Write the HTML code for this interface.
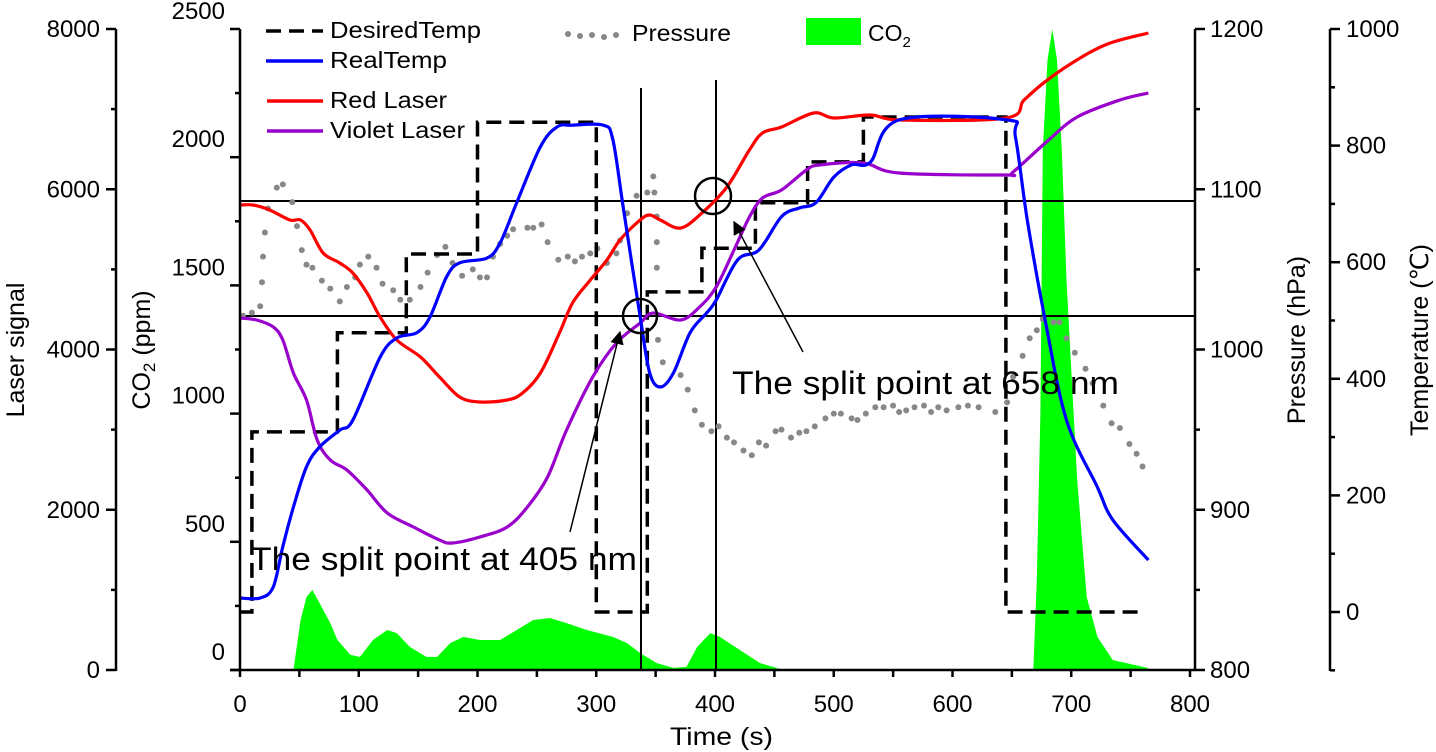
<!DOCTYPE html>
<html><head><meta charset="utf-8"><style>
html,body{margin:0;padding:0;background:#fff;}
svg{display:block;font-family:"Liberation Sans",Arial,sans-serif;}
</style></head><body>
<svg id="chart" width="1436" height="752" viewBox="0 0 1436 752" xmlns="http://www.w3.org/2000/svg"></svg>
<script>
// ---- data ----
const desiredT = [0,10,10,82,82,140,140,200,200,300,300,343,343,389,389,434,434,478,478,525,525,645,645,760];
const desiredV = [0,0,309,309,479,479,614,614,840,840,0,0,549,549,624,624,702,702,772,772,849,849,0,0];
const realT = [0,17,28,36,45,56,67,84,95,118,132,149,160,174,185,208,219,233,253,267,280,306,314,323,337,345,354,365,379,393,401,419,437,456,471,485,500,515,531,555,646,653,663,678,696,722,735,765];
const realV = [24,24,43,112,180,249,283,312,329,437,470,479,506,575,599,607,633,702,798,832,835,835,810,690,506,410,386,410,479,513,535,604,621,678,693,702,746,767,772,844,844,815,672,501,329,214,158,89];
const redT = [0,11,25,42,51,59,70,84,95,107,118,132,152,168,185,202,225,238,253,269,280,295,309,320,337,345,354,371,389,410,429,440,456,483,500,531,557,645,660,677,700,730,765];
const redV = [5803,5803,5741,5616,5616,5491,5204,5079,4955,4705,4406,4119,3906,3657,3407,3345,3370,3457,3707,4206,4580,4867,5117,5367,5616,5679,5616,5516,5704,6028,6490,6702,6777,6952,6889,6927,6864,6889,7110,7330,7570,7810,7950];
const violetT = [0,14,28,36,45,56,65,76,90,107,124,146,168,179,202,225,242,259,275,297,317,337,348,371,387,401,416,429,440,456,477,488,525,555,645,651,681,705,741,765];
const violetV = [4393,4368,4281,4119,3707,3370,2871,2621,2496,2246,1959,1785,1622,1585,1660,1785,2034,2409,2995,3657,4081,4331,4456,4368,4530,4780,5242,5654,5891,5991,6240,6303,6328,6203,6178,6215,6615,6902,7114,7201];
const co2T = [45,51,56,61,67,76,82,93,101,112,124,132,143,157,166,177,188,202,219,233,247,261,275,292,314,326,337,351,365,376,385,396,404,421,438,455,665,668,671,674,676,680,684,688,692,696,705,713,722,735,764,766];
const co2V = [0,195,285,312,261,183,117,59,51,117,156,144,90,51,51,105,129,117,117,156,195,203,183,156,129,105,66,27,8,12,90,144,129,78,27,4,0,0,351,1002,2028,2379,2500,2379,2028,1521,741,285,129,39,8,0];
const presT = [2.5,10,17,18.5,19.4,21,23.6,31,36,44,48,52,56,61,69,76,84,90,97,101,108,115,120,129,135,143,152,158,166,173,179,187,196,202,208,213,219,225,230,242,247,254,259,268,276,282,288,295,301,309,317,320,326,334,343,348,349,351,351,351,352,356,371,377,383,389,397,403,410,416,424,431,437,443,451,456,464,471,477,484,493,500,506,515,520,527,535,542,550,555,561,568,576,582,588,595,605,613,622,636,646,651,659,665,671,676,685,690,696,703,712,718,727,734,741,749,755,760];
const presV = [1021,1023,1027,1042,1058,1073,1088,1101,1103,1092,1077,1062,1053,1051,1043,1038,1030,1039,1045,1053,1058,1051,1041,1037,1031,1031,1039,1048,1059,1064,1054,1046,1050,1045,1045,1058,1066,1071,1075,1076,1076,1078,1067,1056,1058,1055,1058,1060,1063,1054,1060,1068,1085,1096,1098,1108,1098,1083,1067,1051,1006,992,984,975,962,953,949,952,945,942,937,934,942,940,949,950,945,948,949,952,957,960,960,957,956,960,964,964,965,961,962,964,965,961,964,962,964,965,964,961,967,983,996,1007,1012,1019,1017,1017,1007,998,988,979,965,954,951,941,935,927];
const xTicks = [0,100,200,300,400,500,600,700,800];
const laserTicks = [0,2000,4000,6000,8000];
const co2Ticks = [0,500,1000,1500,2000,2500];
const presTicks = [800,900,1000,1100,1200];
const tempTicks = [0,200,400,600,800,1000];

// ---- scales ----
const X = t => 240 + t*950/800;
const YL = v => 670 - v*641/8000;
const YC = v => 670 - v*641/2500;
const YP = v => 670 - (v-800)*641/400;
const YT = v => 612 - v*583/1000;

const svg = document.getElementById('chart');
const NS = 'http://www.w3.org/2000/svg';
function mk(tag, attrs, parent){
  const e = document.createElementNS(NS, tag);
  for (const k in attrs) e.setAttribute(k, attrs[k]);
  (parent||svg).appendChild(e);
  return e;
}
function txt(s, attrs, parent){ const e = mk('text', attrs, parent); e.textContent = s; return e; }
function pathOf(ts, vs, fy){ return ts.map((t,i)=>(i?'L':'M')+X(t).toFixed(1)+' '+fy(vs[i]).toFixed(1)).join(' '); }
function smoothOf(ts, vs, fy){
  const p = ts.map((t,i)=>[X(t), fy(vs[i])]);
  let d = 'M'+p[0][0].toFixed(1)+' '+p[0][1].toFixed(1);
  for (let i=0;i<p.length-1;i++){
    const p0=p[i-1]||p[i], p1=p[i], p2=p[i+1], p3=p[i+2]||p2;
    const c1=[p1[0]+(p2[0]-p0[0])/6, p1[1]+(p2[1]-p0[1])/6];
    const c2=[p2[0]-(p3[0]-p1[0])/6, p2[1]-(p3[1]-p1[1])/6];
    d += ' C'+c1[0].toFixed(1)+' '+c1[1].toFixed(1)+' '+c2[0].toFixed(1)+' '+c2[1].toFixed(1)+' '+p2[0].toFixed(1)+' '+p2[1].toFixed(1);
  }
  return d;
}

// CO2 area
const co2 = mk('path', {d: pathOf(co2T, co2V, YC) + ' Z', fill:'#00ff00', stroke:'none'});



// reference lines
const h1 = mk('line',{x1:240,x2:1195,y1:201,y2:201,stroke:'#000','stroke-width':2});


const h2 = mk('line',{x1:240,x2:1195,y1:316,y2:316,stroke:'#000','stroke-width':2});


const v1 = mk('line',{x1:641,x2:641,y1:88,y2:670,stroke:'#000','stroke-width':2});


const v2 = mk('line',{x1:716,x2:716,y1:80,y2:670,stroke:'#000','stroke-width':2});



// pressure dots
const pg = mk('g',{fill:'#888'});


presT.forEach((t,i)=>{
  const c = mk('circle',{cx:X(t).toFixed(1), cy:YP(presV[i]).toFixed(1), r:3}, pg);
  
  
});

// lines
const dl = mk('path',{d:pathOf(desiredT,desiredV,YT),fill:'none',stroke:'#000','stroke-width':3.5,'stroke-dasharray':'15 8'});


const rl = mk('path',{d:smoothOf(redT,redV,YL),fill:'none',stroke:'#ff0000','stroke-width':3.2,'stroke-linejoin':'round'});


const vl = mk('path',{d:smoothOf(violetT,violetV,YL),fill:'none',stroke:'#9900cc','stroke-width':3.2,'stroke-linejoin':'round'});


const bl = mk('path',{d:smoothOf(realT,realV,YT),fill:'none',stroke:'#0000ff','stroke-width':3.2,'stroke-linejoin':'round'});



// axes
const ax = mk('g',{stroke:'#000','stroke-width':2.5,fill:'none'});


mk('line',{x1:116,x2:116,y1:29,y2:671},ax);
mk('line',{x1:240,x2:240,y1:29,y2:671},ax);
mk('line',{x1:1195,x2:1195,y1:29,y2:671},ax);
mk('line',{x1:1330,x2:1330,y1:29,y2:671},ax);
mk('line',{x1:230,x2:1195,y1:670,y2:670},ax);
const lab = {'font-size':24,fill:'#000'};
for (let v=0; v<=8000; v+=1000){ const y=YL(v); mk('line',{x1:v%2000?111:106,x2:116,y1:y,y2:y},ax); }
laserTicks.forEach(v=>{ const e=txt(String(v),Object.assign({x:100,y:YL(v)+8,'text-anchor':'end'},lab));   });
for (let v=0; v<=2500; v+=250){ const y=YC(v); mk('line',{x1:v%500?235:230,x2:240,y1:y,y2:y},ax); }
co2Ticks.forEach(v=>{ const e=txt(String(v),Object.assign({x:225,y:YC(v)-10,'text-anchor':'end'},lab));   });
for (let v=800; v<=1200; v+=50){ const y=YP(v); mk('line',{x1:1195,x2:v%100?1200:1205,y1:y,y2:y},ax); }
presTicks.forEach(v=>{ const e=txt(String(v),Object.assign({x:1210,y:YP(v)+8},lab));   });
for (let v=-100; v<=1000; v+=100){ const y=YT(v); mk('line',{x1:1330,x2:v%200?1335:1340,y1:y,y2:y},ax); }
tempTicks.forEach(v=>{ const e=txt(String(v),Object.assign({x:1346,y:YT(v)+8},lab));   });
for (let t=0; t<=800; t+=50){ const x=X(t); mk('line',{x1:x,x2:x,y1:670,y2:677},ax); }
xTicks.forEach(v=>{ const e=txt(String(v),Object.assign({x:X(v),y:712,'text-anchor':'middle'},lab));   });
</script>
<svg style="position:absolute;left:0;top:0" width="1436" height="752" xmlns="http://www.w3.org/2000/svg" font-family="Liberation Sans, Arial, sans-serif">
  <defs><marker id="ah" viewBox="0 0 10 10" refX="9" refY="5" markerWidth="9" markerHeight="9" orient="auto"><path d="M0,0 L10,5 L0,10 z" fill="#000"/></marker></defs>
  <text x="670" y="745" font-size="25" textLength="103" lengthAdjust="spacingAndGlyphs">Time (s)</text>
  <text transform="translate(24,350) rotate(-90)" font-size="25" text-anchor="middle">Laser signal</text>
  <text transform="translate(150,350) rotate(-90)" font-size="25" text-anchor="middle">CO<tspan font-size="17" dy="5">2</tspan><tspan dy="-5"> (ppm)</tspan></text>
  <text transform="translate(1305,340) rotate(-90)" font-size="25" text-anchor="middle">Pressure (hPa)</text>
  <text transform="translate(1428,340) rotate(-90)" font-size="25" text-anchor="middle">Temperature (℃)</text>
  <g font-size="23">
    <line x1="266" x2="323" y1="31" y2="31" stroke="#000" stroke-width="3.5" stroke-dasharray="15 8"/>
    <text x="330" y="38" textLength="151" lengthAdjust="spacingAndGlyphs">DesiredTemp</text>
    <line x1="266" x2="323" y1="61" y2="61" stroke="#0000ff" stroke-width="3.5"/>
    <text x="330" y="68" textLength="117" lengthAdjust="spacingAndGlyphs">RealTemp</text>
    <line x1="267" x2="323" y1="101" y2="101" stroke="#ff0000" stroke-width="3.5"/>
    <text x="330" y="108" textLength="117" lengthAdjust="spacingAndGlyphs">Red Laser</text>
    <line x1="267" x2="323" y1="131" y2="131" stroke="#9900cc" stroke-width="3.5"/>
    <text x="330" y="138" textLength="135" lengthAdjust="spacingAndGlyphs">Violet Laser</text>
    <g fill="#888"><circle cx="568" cy="34" r="3"/><circle cx="580" cy="36" r="3"/><circle cx="592" cy="35" r="3"/><circle cx="604" cy="37" r="3"/><circle cx="616" cy="35" r="3"/></g>
    <text x="632" y="41" textLength="99" lengthAdjust="spacingAndGlyphs">Pressure</text>
    <rect x="806" y="18" width="55" height="27" fill="#00ff00"/>
    <text x="868" y="41">CO<tspan font-size="15" dy="6">2</tspan></text>
  </g>
  <circle cx="640" cy="316" r="17" fill="none" stroke="#000" stroke-width="2.5"/>
  <circle cx="713" cy="196" r="18" fill="none" stroke="#000" stroke-width="2.5"/>
  <line x1="570" y1="532" x2="620" y2="332" stroke="#000" stroke-width="1.5" marker-end="url(#ah)"/>
  <line x1="803" y1="352" x2="734" y2="222" stroke="#000" stroke-width="1.5" marker-end="url(#ah)"/>
  <text x="250" y="570" font-size="32" textLength="387" lengthAdjust="spacingAndGlyphs">The split point at 405 nm</text>
  <text x="732" y="394" font-size="32" textLength="387" lengthAdjust="spacingAndGlyphs">The split point at 658 nm</text>
</svg>
</body></html>
